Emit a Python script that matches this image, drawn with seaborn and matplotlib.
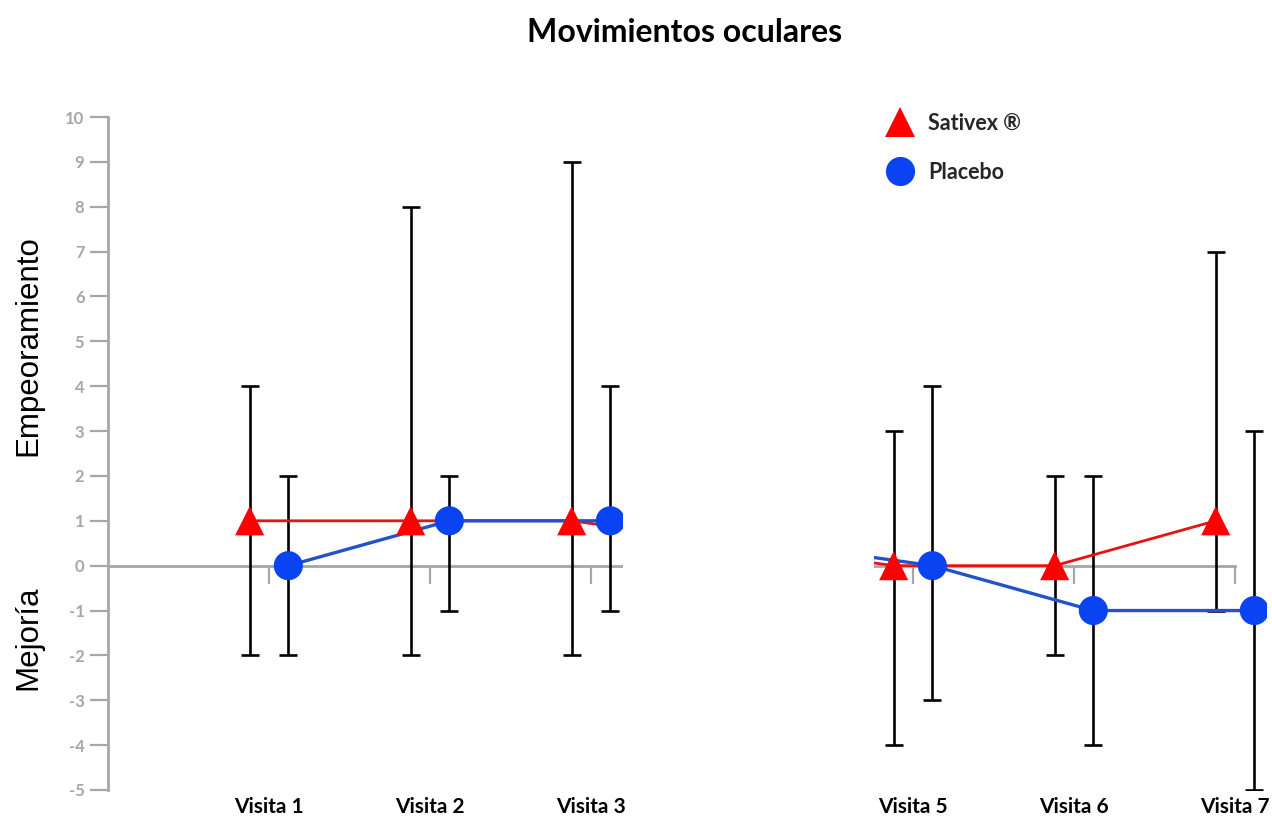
import numpy as np
import pandas as pd
import matplotlib
matplotlib.use("Agg")
import matplotlib.pyplot as plt
from matplotlib.lines import Line2D
from matplotlib.transforms import blended_transform_factory
import seaborn as sns

# ---- data ----
visitas = ["Visita 1", "Visita 2", "Visita 3", "Visita 4", "Visita 5", "Visita 6", "Visita 7"]
visibles = [True, True, True, False, True, True, True]
sativex_val = [1, 1, 1, 0.5, 0, 0, 1]
sativex_hi = [4, 8, 9, None, 3, 2, 7]
sativex_lo = [-2, -2, -2, None, -4, -2, -1]
placebo_val = [0, 1, 1, 0.5, 0, -1, -1]
placebo_hi = [2, 2, 4, None, 4, 2, 3]
placebo_lo = [-2, -1, -1, None, -3, -4, -5]
yticks = list(range(-5, 11))
series_names = ["Sativex ®", "Placebo"]

RED = "#FF0000"
RED_LINE = "#E81212"
BLUE = "#0A44F2"
BLUE_LINE = "#2353C8"
GRAY = "#A6A6A6"

sns.set_theme(style="white")
plt.rcParams["font.family"] = ["Lato", "DejaVu Sans"]

fig = plt.figure(figsize=(12.72, 8.39), dpi=100)
ax = fig.add_axes([108 / 1272, 49 / 839, 1159.2 / 1272, 673 / 839])

pos = np.arange(1, len(visitas) + 1, dtype=float)
off = 0.12
df = pd.DataFrame({
    "pos": np.concatenate([pos - off, pos + off]),
    "val": sativex_val + placebo_val,
    "grupo": ["Sativex"] * len(pos) + ["Placebo"] * len(pos),
})

# lines
sns.lineplot(data=df[df.grupo == "Sativex"], x="pos", y="val", color=RED_LINE,
             linewidth=2.0, ax=ax, legend=False, zorder=3, sort=True)
sns.lineplot(data=df[df.grupo == "Placebo"], x="pos", y="val", color=BLUE_LINE,
             linewidth=2.4, ax=ax, legend=False, zorder=3, sort=True)

# error bars
for vals, his, los, sign in [(sativex_val, sativex_hi, sativex_lo, -1),
                             (placebo_val, placebo_hi, placebo_lo, 1)]:
    for i, vis in enumerate(visibles):
        if not vis:
            continue
        v = vals[i]
        ax.errorbar([pos[i] + sign * off], [v],
                    yerr=[[v - los[i]], [his[i] - v]],
                    fmt="none", ecolor="black", elinewidth=1.9,
                    capsize=6.5, capthick=1.9, zorder=2.7)

# markers
sns.scatterplot(data=df, x="pos", y="val", hue="grupo", style="grupo",
                palette={"Sativex": RED, "Placebo": BLUE},
                markers={"Sativex": "^", "Placebo": "o"},
                s=440, linewidth=0, ax=ax, legend=False, zorder=4)

# axes styling
ax.set_xlim(0, 7.2)
ax.set_ylim(-5, 10)
ax.set_yticks(yticks)
ax.set_yticklabels([str(t) for t in yticks])
ax.set_xticks(pos)
ax.set_xticklabels([""] * len(pos))
ax.set_xlabel("")
ax.set_ylabel("")
for s in ["top", "right"]:
    ax.spines[s].set_visible(False)
ax.spines["left"].set_color(GRAY)
ax.spines["left"].set_linewidth(2.0)
ax.spines["bottom"].set_position(("data", 0))
ax.spines["bottom"].set_bounds(0, 7)
ax.spines["bottom"].set_color(GRAY)
ax.spines["bottom"].set_linewidth(2.0)
ax.spines["bottom"].set_zorder(2.5)
ax.tick_params(axis="y", direction="out", length=13, width=1.6, color=GRAY,
               labelcolor=GRAY, labelsize=12, pad=4, left=True)
ax.tick_params(axis="x", direction="out", length=13, width=1.6, color=GRAY,
               bottom=True)
for lab in ax.get_yticklabels():
    lab.set_fontweight("bold")
ax.grid(False)

# region cut out of the original (Visita 4 not shown)
ax.axvspan(3.2, 4.758, ymin=-0.1, ymax=1.0, color="white", zorder=10, lw=0)

# visit labels
trans = blended_transform_factory(ax.transData, ax.transAxes)
for i, vis in enumerate(visibles):
    if vis:
        ax.text(pos[i], -0.025, visitas[i], transform=trans, ha="center", va="center",
                fontsize=15, fontweight="bold", color="black")

# title and side labels
fig.text(685 / 1272, 1 - 33 / 839, "Movimientos oculares", ha="center", va="center",
         fontsize=23, fontweight="bold", color="black")
fig.text(28 / 1272, 1 - 346 / 839, "Empeoramiento", rotation=90, ha="center", va="center",
         fontsize=22.5, family=["Liberation Sans", "DejaVu Sans"], color="black")
fig.text(28 / 1272, 1 - 638 / 839, "Mejoría", rotation=90, ha="center", va="center",
         fontsize=22.5, family=["Liberation Sans", "DejaVu Sans"], color="black")

# legend
handles = [Line2D([], [], marker="^", ls="", color=RED, markersize=21, markeredgewidth=0),
           Line2D([], [], marker="o", ls="", color=BLUE, markersize=21, markeredgewidth=0)]
leg = ax.legend(handles, series_names, loc="upper left",
                bbox_to_anchor=(878.5 / 1272, 1 - 113 / 839), bbox_transform=fig.transFigure,
                frameon=False, handletextpad=0.3, labelspacing=1.28, borderpad=0,
                borderaxespad=0, prop={"family": "Lato", "weight": "bold", "size": 15.5})
leg.set_zorder(20)

fig.savefig("out.png", dpi=100)
